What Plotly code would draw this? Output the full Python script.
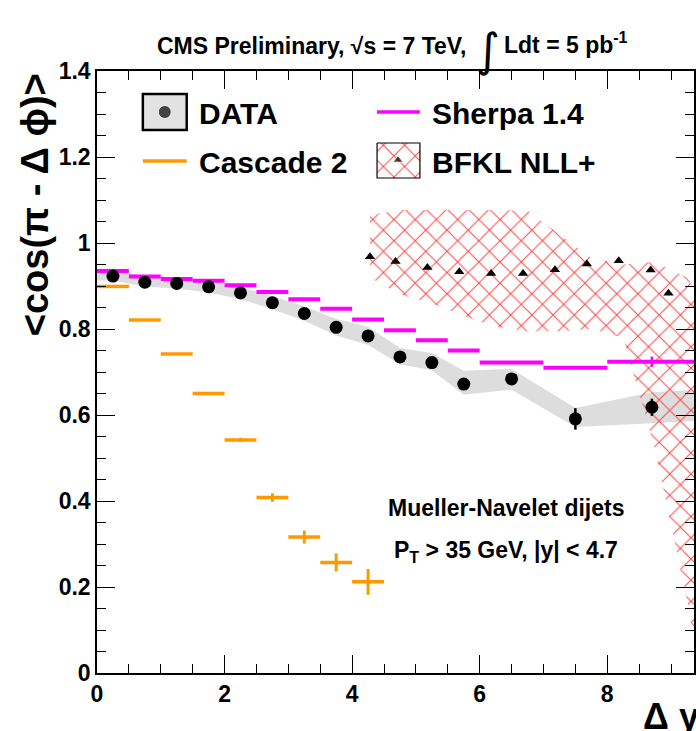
import plotly.graph_objects as go

# ---------------- data ----------------
bin_centers = [0.25, 0.75, 1.25, 1.75, 2.25, 2.75, 3.25, 3.75, 4.25, 4.75, 5.25, 5.75, 6.5, 7.5, 8.7]
bin_halfw   = [0.25] * 12 + [0.5, 0.5, 0.7]

data_y    = [0.923, 0.909, 0.906, 0.898, 0.884, 0.861, 0.836, 0.804, 0.784, 0.735, 0.722, 0.672, 0.684, 0.591, 0.618]
data_stat = [0.003, 0.003, 0.003, 0.003, 0.003, 0.003, 0.004, 0.004, 0.005, 0.005, 0.006, 0.007, 0.008, 0.025, 0.02]

band_x  = [0.0, 0.25, 0.75, 1.25, 1.75, 2.25, 2.75, 3.25, 3.75, 4.25, 4.75, 5.25, 5.75, 6.5, 7.5, 8.7, 9.36]
band_c  = [0.925, 0.925, 0.911, 0.906, 0.898, 0.884, 0.861, 0.836, 0.804, 0.784, 0.737, 0.724, 0.675, 0.683, 0.594, 0.617, 0.622]
band_hw = [0.012, 0.012, 0.012, 0.012, 0.013, 0.014, 0.015, 0.017, 0.019, 0.021, 0.019, 0.02, 0.028, 0.024, 0.022, 0.036, 0.036]

sherpa_y   = [0.935, 0.922, 0.916, 0.912, 0.902, 0.886, 0.869, 0.847, 0.822, 0.797, 0.774, 0.750, 0.722, 0.710, 0.724]
sherpa_err = [0.001, 0.001, 0.001, 0.001, 0.001, 0.001, 0.001, 0.001, 0.001, 0.001, 0.001, 0.001, 0.002, 0.004, 0.012]

cascade_x   = [0.25, 0.75, 1.25, 1.75, 2.25, 2.75, 3.25, 3.75, 4.25]
cascade_y   = [0.899, 0.821, 0.742, 0.650, 0.542, 0.408, 0.316, 0.257, 0.212]
cascade_err = [0.002, 0.002, 0.002, 0.003, 0.005, 0.010, 0.015, 0.021, 0.030]

bfkl_x = [4.28, 4.68, 5.18, 5.68, 6.18, 6.68, 7.18, 7.68, 8.18, 8.68, 8.96]
bfkl_y = [0.968, 0.957, 0.943, 0.933, 0.929, 0.929, 0.938, 0.951, 0.959, 0.937, 0.883]

bfkl_band_x  = [4.28, 4.75, 5.25, 5.75, 6.25, 6.75, 7.25, 7.75, 8.25, 8.75, 9.25, 9.36]
bfkl_band_hi = [1.065, 1.077, 1.077, 1.077, 1.077, 1.075, 1.020, 0.965, 0.950, 0.956, 0.920, 0.895]
bfkl_band_lo = [0.920, 0.880, 0.860, 0.830, 0.805, 0.795, 0.795, 0.800, 0.780, 0.520, 0.170, 0.080]

x_ticks = [0, 2, 4, 6, 8]
y_ticks = [0, 0.2, 0.4, 0.6, 0.8, 1, 1.2, 1.4]

# ---------------- layout geometry ----------------
W, H = 696, 731
L, R, T, B = 97, 696, 71, 673
FONT = "Liberation Sans"
ORANGE = "#ff9900"
MAGENTA = "#ff00ff"
HATCH = dict(shape="x", size=15, solidity=0.13, fgopacity=1,
             fgcolor="rgb(255,70,70)", bgcolor="rgba(0,0,0,0)")


def pxx(xp):
    return (xp - L) / (R - L)


def pxy(yp):
    return (B - yp) / (B - T)


fig = go.Figure()

# data systematic band
band_hi = [c + h for c, h in zip(band_c, band_hw)]
band_lo = [c - h for c, h in zip(band_c, band_hw)]
fig.add_trace(go.Scatter(
    x=band_x + band_x[::-1], y=band_hi + band_lo[::-1],
    fill="toself", fillcolor="rgba(212,212,212,0.8)",
    line=dict(width=0), mode="lines", hoverinfo="skip", showlegend=False))

# BFKL band (hatched)
fig.add_trace(go.Scatter(
    x=bfkl_band_x + bfkl_band_x[::-1], y=bfkl_band_hi + bfkl_band_lo[::-1],
    fill="toself", fillcolor="rgb(255,70,70)", fillpattern=HATCH,
    line=dict(width=0), mode="lines", hoverinfo="skip", showlegend=False))

# Sherpa
fig.add_trace(go.Scatter(
    x=bin_centers, y=sherpa_y, mode="markers",
    marker=dict(size=1, color=MAGENTA),
    error_x=dict(type="data", array=bin_halfw, width=0, thickness=4, color=MAGENTA),
    error_y=dict(type="data", array=sherpa_err, width=0, thickness=2.5, color=MAGENTA),
    showlegend=False))

# Cascade
fig.add_trace(go.Scatter(
    x=cascade_x, y=cascade_y, mode="markers",
    marker=dict(size=1, color=ORANGE),
    error_x=dict(type="data", array=[0.25] * len(cascade_x), width=0, thickness=3.5, color=ORANGE),
    error_y=dict(type="data", array=cascade_err, width=0, thickness=3, color=ORANGE),
    showlegend=False))

# Data
fig.add_trace(go.Scatter(
    x=bin_centers, y=data_y, mode="markers",
    marker=dict(size=13, color="black", symbol="circle"),
    error_y=dict(type="data", array=data_stat, width=0, thickness=2.5, color="black"),
    showlegend=False))

# BFKL points
fig.add_trace(go.Scatter(
    x=bfkl_x, y=bfkl_y, mode="markers",
    marker=dict(size=9, color="black", symbol="triangle-up"),
    showlegend=False))

# ---------------- legend (pixel overlay axes) ----------------
lg_box_x = [378, 421, 421, 378, 378]
lg_box_y = [143, 143, 178, 178, 143]
fig.add_trace(go.Scatter(
    x=lg_box_x, y=lg_box_y, xaxis="x2", yaxis="y2",
    fill="toself", fillcolor="rgb(255,70,70)", fillpattern=HATCH,
    line=dict(width=1.2, color="black"), mode="lines", hoverinfo="skip", showlegend=False))
fig.add_trace(go.Scatter(
    x=[165, 399], y=[112, 160], xaxis="x2", yaxis="y2", mode="markers",
    marker=dict(size=[13, 9], color="black", symbol=["circle", "triangle-up"]),
    showlegend=False))

shapes = [
    dict(type="rect", xref="x2", yref="y2", x0=143, x1=187, y0=94, y1=130,
         fillcolor="#e2e2e2", line=dict(color="black", width=2.5), layer="below"),
    dict(type="line", xref="x2", yref="y2", x0=143, x1=187, y0=161, y1=161,
         line=dict(color=ORANGE, width=3.5)),
    dict(type="line", xref="x2", yref="y2", x0=378, x1=421, y0=112, y1=112,
         line=dict(color=MAGENTA, width=3.5)),
]

lg_font = dict(family=FONT, size=30, color="black", weight="bold")
annotations = [
    dict(text="DATA", xref="x2", yref="y2", x=197, y=113, xanchor="left", yanchor="middle",
         showarrow=False, font=lg_font),
    dict(text="Cascade 2", xref="x2", yref="y2", x=197, y=162, xanchor="left", yanchor="middle",
         showarrow=False, font=lg_font),
    dict(text="Sherpa 1.4", xref="x2", yref="y2", x=431, y=113, xanchor="left", yanchor="middle",
         showarrow=False, font=lg_font),
    dict(text="BFKL NLL+", xref="x2", yref="y2", x=431, y=162, xanchor="left", yanchor="middle",
         showarrow=False, font=lg_font),
    # title
    dict(text="CMS Preliminary, √s = 7 TeV,", xref="paper", yref="paper",
         x=pxx(469), y=pxy(46), xanchor="right", yanchor="middle", showarrow=False,
         font=dict(family=FONT, size=23, color="black", weight="bold")),
    dict(text="∫", xref="paper", yref="paper",
         x=pxx(489), y=pxy(50), xanchor="center", yanchor="middle", showarrow=False,
         font=dict(family="DejaVu Sans", size=46, color="black")),
    dict(text="Ldt = 5 pb<sup>-1</sup>", xref="paper", yref="paper",
         x=pxx(503), y=pxy(43), xanchor="left", yanchor="middle", showarrow=False,
         font=dict(family=FONT, size=23, color="black", weight="bold")),
    # axis titles
    dict(text="&lt;cos(π - Δ ϕ)&gt;", xref="paper", yref="paper",
         x=pxx(35), y=pxy(205), xanchor="center", yanchor="middle", textangle=-90,
         showarrow=False, font=dict(family=FONT, size=38, color="black", weight="bold")),
    dict(text="Δ y", xref="paper", yref="paper",
         x=pxx(703), y=pxy(716), xanchor="right", yanchor="middle",
         showarrow=False, font=dict(family=FONT, size=36, color="black", weight="bold")),
    # info text
    dict(text="Mueller-Navelet dijets", xref="paper", yref="paper",
         x=pxx(507), y=pxy(508), xanchor="center", yanchor="middle",
         showarrow=False, font=dict(family=FONT, size=23, color="black", weight="bold")),
    dict(text="P<sub>T</sub> &gt; 35 GeV, |y| &lt; 4.7", xref="paper", yref="paper",
         x=pxx(507), y=pxy(551), xanchor="center", yanchor="middle",
         showarrow=False, font=dict(family=FONT, size=23, color="black", weight="bold")),
]

tickfont = dict(family=FONT, size=23, color="black", weight="bold")
fig.update_layout(
    width=W, height=H,
    margin=dict(l=L, r=W - R, t=T, b=H - B, pad=0),
    paper_bgcolor="white", plot_bgcolor="white",
    showlegend=False,
    shapes=shapes, annotations=annotations,
    xaxis=dict(range=[0, 9.36], tickvals=x_ticks, ticktext=[str(v) for v in x_ticks],
               ticks="inside", ticklen=18, tickwidth=1, tickcolor="black",
               showline=True, linecolor="black", linewidth=1.5, mirror="ticks",
               showgrid=False, zeroline=False, tickfont=tickfont,
               minor=dict(dtick=0.5, ticks="inside", ticklen=9, tickwidth=1,
                          tickcolor="black", showgrid=False)),
    yaxis=dict(range=[0, 1.4], tickvals=y_ticks, ticktext=["0", "0.2", "0.4", "0.6", "0.8", "1", "1.2", "1.4"],
               ticks="inside", ticklen=18, tickwidth=1, tickcolor="black",
               showline=True, linecolor="black", linewidth=1.5, mirror="ticks",
               showgrid=False, zeroline=False, tickfont=tickfont,
               minor=dict(dtick=0.05, ticks="inside", ticklen=9, tickwidth=1,
                          tickcolor="black", showgrid=False)),
    xaxis2=dict(range=[L, R], overlaying="x", visible=False, fixedrange=True),
    yaxis2=dict(range=[B, T], overlaying="y", visible=False, fixedrange=True),
)

fig.write_html("out.html", config={"displayModeBar": False},
               post_script="document.body.style.margin='0px';document.body.style.overflow='hidden';")
